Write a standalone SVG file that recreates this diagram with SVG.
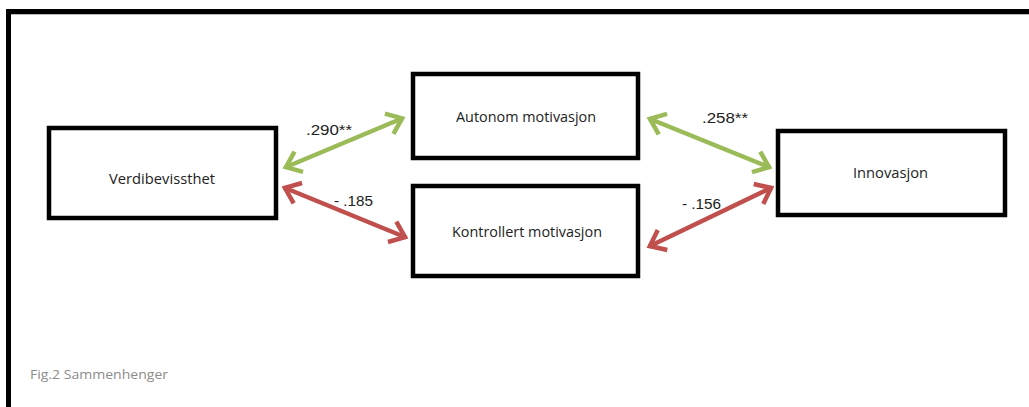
<svg xmlns="http://www.w3.org/2000/svg" width="1029" height="407" viewBox="0 0 1029 407">
<style>
.box{fill:#fff;stroke:#000;stroke-width:4.5}
.lbl{font-family:"Open Sans","Liberation Sans",sans-serif;font-size:14px;fill:#222;text-anchor:middle}
.num{font-family:"Liberation Sans",Arial,sans-serif;font-size:14px;fill:#222}
.g{stroke:#9BBB59;stroke-width:4.5;fill:none}
.r{stroke:#C0504D;stroke-width:4.5;fill:none}
</style>
<defs>
<marker id="ag" markerUnits="userSpaceOnUse" orient="auto-start-reverse" markerWidth="40" markerHeight="40" refX="0" refY="0" viewBox="-20 -20 40 40" overflow="visible">
<path d="M-15,-11 L-1,0 L-15,11" fill="none" stroke="#9BBB59" stroke-width="4.5" stroke-linejoin="miter"/>
</marker>
<marker id="ar" markerUnits="userSpaceOnUse" orient="auto-start-reverse" markerWidth="40" markerHeight="40" refX="0" refY="0" viewBox="-20 -20 40 40" overflow="visible">
<path d="M-15,-11 L-1,0 L-15,11" fill="none" stroke="#C0504D" stroke-width="4.5" stroke-linejoin="miter"/>
</marker>
</defs>
<rect x="0" y="0" width="1029" height="407" fill="#fff"/>
<g id="frame">
<line x1="8.5" y1="14.5" x2="1029" y2="14.5" stroke="#bbb" stroke-width="1"/>
<path d="M8.5,407 L8.5,11.5 L1029,11.5" fill="none" stroke="#000" stroke-width="5"/>
</g>
<g id="connectors">
<line class="g" x1="285" y1="167.5" x2="403" y2="118" marker-start="url(#ag)" marker-end="url(#ag)"/>
<line class="r" x1="284" y1="187.5" x2="406" y2="237.5" marker-start="url(#ar)" marker-end="url(#ar)"/>
<line class="g" x1="649" y1="118.5" x2="770" y2="167.5" marker-start="url(#ag)" marker-end="url(#ag)"/>
<line class="r" x1="649" y1="246.5" x2="772" y2="187.5" marker-start="url(#ar)" marker-end="url(#ar)"/>
<text class="num" x="306" y="135" textLength="46" lengthAdjust="spacingAndGlyphs">.290**</text>
<text class="num" x="334" y="206" textLength="39" lengthAdjust="spacingAndGlyphs">- .185</text>
<text class="num" x="702" y="123" textLength="46" lengthAdjust="spacingAndGlyphs">.258**</text>
<text class="num" x="682" y="209" textLength="39" lengthAdjust="spacingAndGlyphs">- .156</text>
</g>
<g id="verdibevissthet">
<rect class="box" x="49" y="128" width="227" height="90"/>
<text class="lbl" x="162" y="184" textLength="106" lengthAdjust="spacingAndGlyphs">Verdibevissthet</text>
</g>
<g id="autonom">
<rect class="box" x="413" y="74" width="225" height="84"/>
<text class="lbl" x="526" y="122" textLength="140" lengthAdjust="spacingAndGlyphs">Autonom motivasjon</text>
</g>
<g id="kontrollert">
<rect class="box" x="413" y="186" width="225" height="90"/>
<text class="lbl" x="527" y="237" textLength="150" lengthAdjust="spacingAndGlyphs">Kontrollert motivasjon</text>
</g>
<g id="innovasjon">
<rect class="box" x="778" y="131" width="227" height="84"/>
<text class="lbl" x="890.5" y="178" textLength="75" lengthAdjust="spacingAndGlyphs">Innovasjon</text>
</g>
<text x="30" y="379" font-family="'Open Sans','Liberation Sans',sans-serif" font-size="13.5px" fill="#8c8c8c" textLength="138" lengthAdjust="spacingAndGlyphs">Fig.2 Sammenhenger</text>
</svg>
